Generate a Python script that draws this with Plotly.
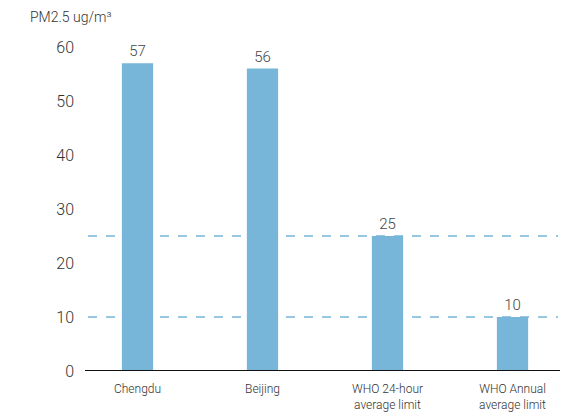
import plotly.graph_objects as go

categories = ["Chengdu", "Beijing", "WHO 24-hour<br>average limit", "WHO Annual<br>average limit"]
values = [57, 56, 25, 10]
limit_levels = [25, 10]
y_ticks = [0, 10, 20, 30, 40, 50, 60]

bar_color = "#77b5d9"

fig = go.Figure(
    go.Bar(
        x=categories,
        y=values,
        width=0.25,
        marker=dict(color=bar_color, line=dict(width=0)),
        text=[str(v) for v in values],
        textposition="outside",
        textfont=dict(family="Roboto", size=15, color="#444", weight=300),
        cliponaxis=False,
    )
)

# dashed reference lines for the WHO limits
for lvl in limit_levels:
    fig.add_shape(
        type="line", xref="paper", yref="y",
        x0=0.026, x1=0.966, y0=lvl, y1=lvl,
        line=dict(color="#77b5d9", width=1.5, dash="dash"),
        layer="above",
    )

# baseline
fig.add_shape(
    type="line", xref="paper", yref="y",
    x0=0.02, x1=0.97, y0=0, y1=0,
    line=dict(color="#111", width=2),
    layer="above",
)

fig.update_layout(
    width=578, height=412,
    margin=dict(l=75, r=3, t=47, b=41),
    paper_bgcolor="white", plot_bgcolor="white",
    showlegend=False,
    bargap=0.75,
    font=dict(family="Roboto", color="#333"),
    xaxis=dict(
        showgrid=False, showline=False, zeroline=False, ticks="",
        ticklabelstandoff=9, automargin=False,
        tickfont=dict(size=12, color="#333", weight=300),
    ),
    yaxis=dict(
        range=[0, 60], tickvals=y_ticks, showgrid=False, showline=False,
        zeroline=False, ticks="", ticklabelstandoff=0, automargin=False,
        tickfont=dict(size=16, color="#333", weight=300),
    ),
    annotations=[
        dict(text="PM2.5 ug/m³", xref="paper", yref="paper", x=0, xanchor="left",
             xshift=-47, y=1, yshift=40, yanchor="top", showarrow=False,
             font=dict(size=14, color="#333", weight=300)),
    ],
)

fig.write_html("out.html")
